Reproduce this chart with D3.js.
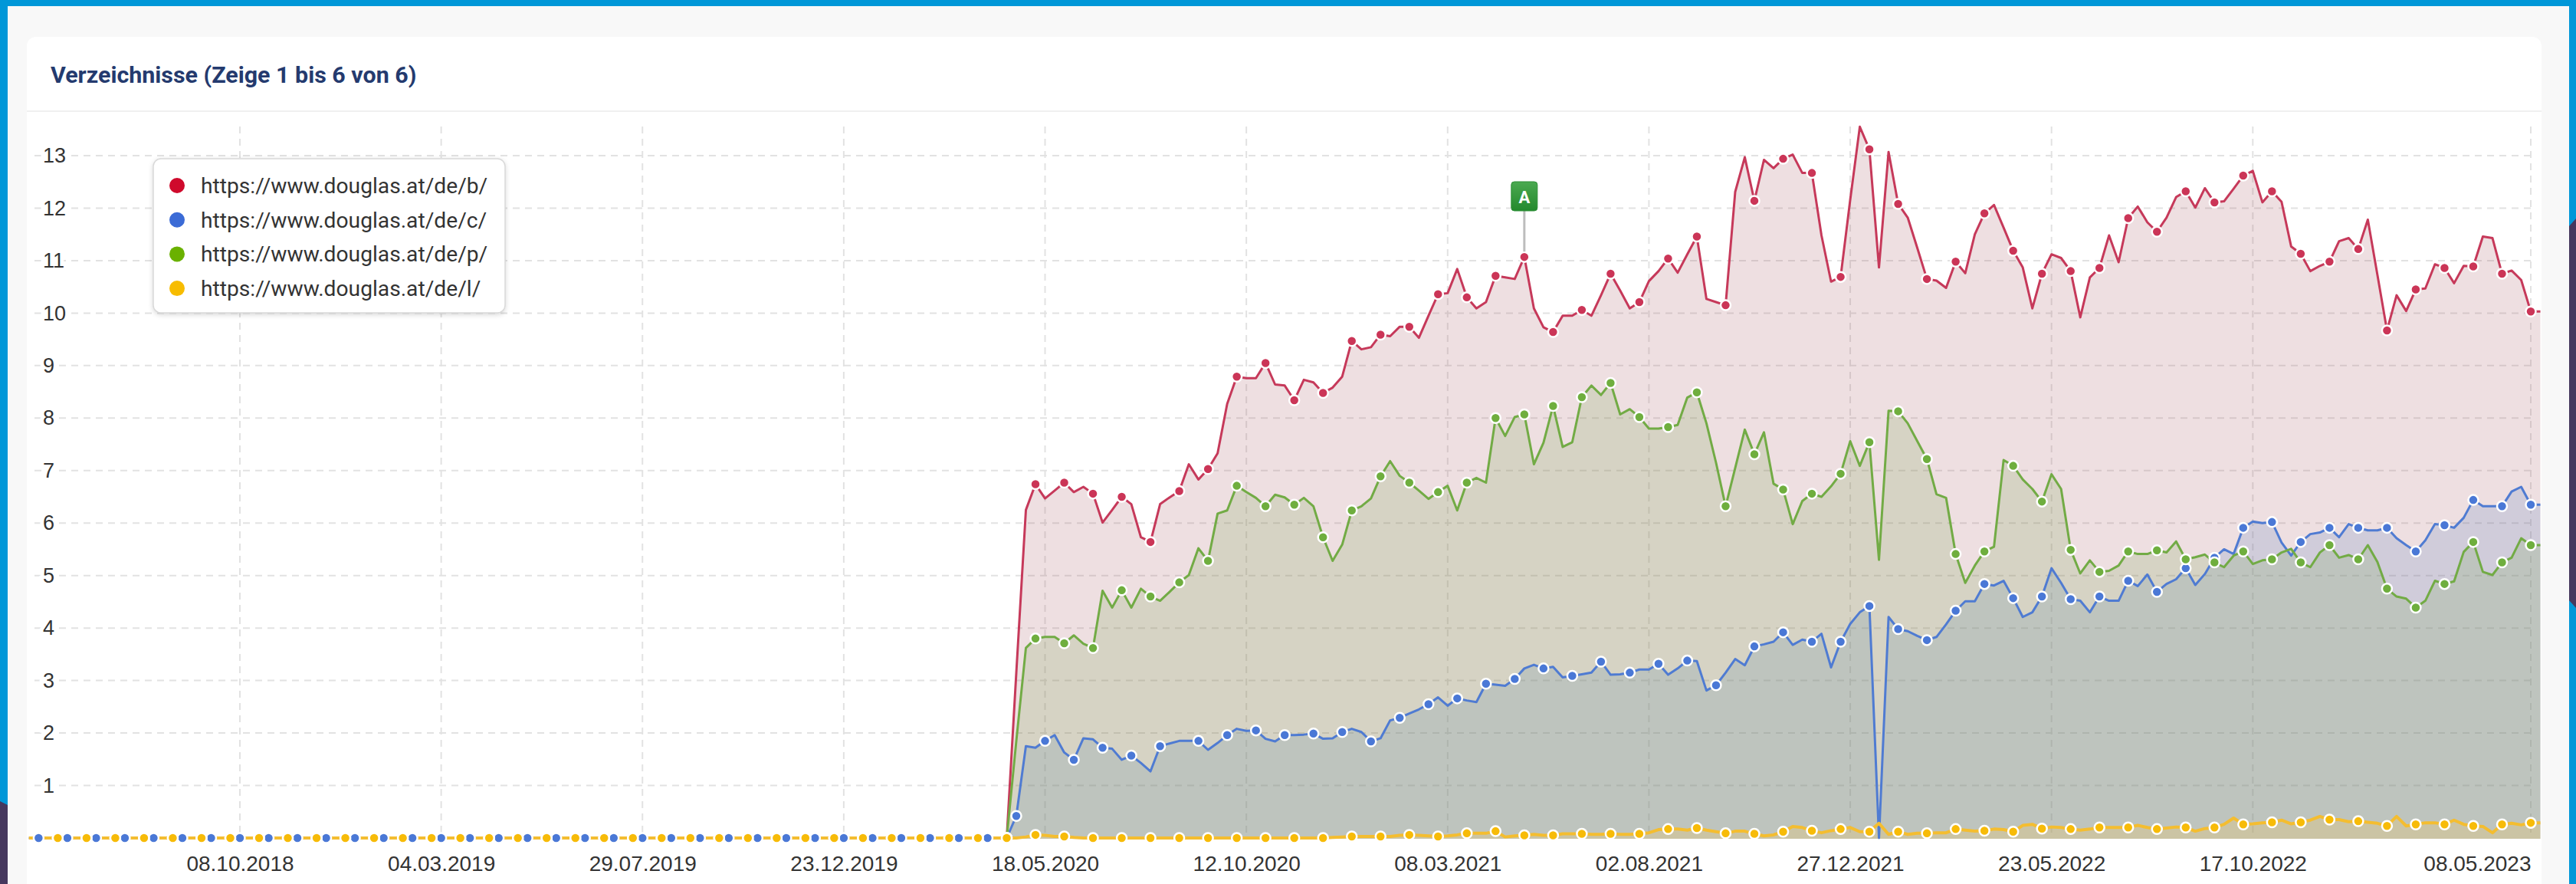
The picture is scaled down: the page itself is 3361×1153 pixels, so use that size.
<!DOCTYPE html>
<html>
<head>
    <meta charset="utf-8">
    <title>Verzeichnisse</title>
    <script src="https://d3js.org/d3.v7.min.js"></script>
    <style>
        html, body { margin: 0; padding: 0; overflow: hidden; background: #f8f8f8; }
        svg { display: block; }
    </style>
</head>
<body>
    <svg id="chart" width="3361" height="1153"></svg>

    <script>
        // weekly values. before 27.04.2020 everything sits on zero
        var flatStart = [
            0,0,0,0,0,0,0,0,0,0, 0,0,0,0,0,0,0,0,0,0, 0,0,0,0,0,0,0,0,0,0,
            0,0,0,0,0,0,0,0,0,0, 0,0,0,0,0,0,0,0,0,0, 0,0,0,0,0,0,0,0,0,0,
            0,0,0,0,0,0,0,0,0,0, 0,0,0,0,0,0,0,0,0,0, 0,0,0,0,0,0,0,0,0,0,
            0,0,0,0,0,0,0,0,0,0, 0,0,0
        ];

        var redValues = flatStart.concat([
            3.15,6.25,6.74,6.47,6.62,6.77,6.59,6.69,6.56,6.01,
            6.25,6.50,6.36,5.73,5.64,6.36,6.49,6.61,7.12,6.83,
            7.03,7.33,8.27,8.79,8.76,8.76,9.05,8.64,8.62,8.34,
            8.73,8.68,8.48,8.58,8.79,9.47,9.31,9.35,9.59,9.56,
            9.74,9.74,9.53,9.95,10.36,10.38,10.84,10.30,10.09,10.21,
            10.71,10.68,10.65,11.07,10.09,9.73,9.64,9.95,9.95,10.06,
            9.95,10.34,10.75,10.43,10.09,10.21,10.61,10.80,11.04,10.77,
            11.12,11.46,10.27,10.21,10.15,12.31,12.97,12.14,12.92,12.76,
            12.94,13.02,12.67,12.67,11.48,10.60,10.69,12.16,13.55,13.12,
            10.87,13.07,12.08,11.82,11.24,10.65,10.62,10.48,10.98,10.76,
            11.50,11.90,12.06,11.63,11.19,10.87,10.09,10.75,11.12,11.05,
            10.80,9.92,10.68,10.86,11.48,10.97,11.81,12.03,11.73,11.55,
            11.82,12.21,12.32,12.01,12.38,12.11,12.13,12.37,12.62,12.71,
            12.11,12.32,12.12,11.27,11.13,10.80,10.90,10.98,11.37,11.43,
            11.22,11.78,10.73,9.67,10.34,10.04,10.45,10.47,10.93,10.86,
            10.57,10.90,10.89,11.46,11.43,10.75,10.81,10.63,10.03,10.03
        ]);

        var blueValues = flatStart.concat([
            0.42,1.75,1.72,1.85,1.96,1.63,1.49,1.90,1.88,1.72,
            1.70,1.49,1.57,1.43,1.27,1.75,1.80,1.85,1.85,1.85,
            1.68,1.81,1.96,2.08,2.04,2.05,1.89,1.84,1.96,1.96,
            1.97,1.99,1.89,1.90,2.02,2.08,2.02,1.84,1.90,2.24,
            2.29,2.37,2.45,2.55,2.68,2.52,2.66,2.62,2.59,2.94,
            2.92,2.90,3.03,3.23,3.30,3.23,3.26,3.06,3.09,3.12,
            3.15,3.36,3.11,3.12,3.15,3.21,3.21,3.32,3.11,3.23,
            3.38,3.37,2.81,2.91,3.15,3.41,3.29,3.65,3.69,3.74,
            3.92,3.68,3.78,3.74,3.89,3.25,3.74,4.08,4.30,4.42,
            0,4.21,3.98,3.94,3.85,3.77,3.83,4.07,4.33,4.51,
            4.51,4.84,4.81,4.90,4.57,4.21,4.30,4.60,5.14,4.86,
            4.55,4.52,4.30,4.60,4.52,4.52,4.90,4.80,5.02,4.69,
            4.84,4.93,5.14,4.82,5.03,5.34,5.50,5.41,5.91,6.03,
            6.00,6.02,5.63,5.38,5.64,5.79,5.82,5.91,5.73,5.98,
            5.91,5.86,5.86,5.91,5.71,5.58,5.46,5.67,5.98,5.96,
            5.91,6.10,6.44,6.32,6.32,6.32,6.60,6.69,6.35,6.35
        ]);

        var greenValues = flatStart.concat([
            1.85,3.62,3.80,3.83,3.83,3.71,3.86,3.70,3.62,4.71,
            4.39,4.72,4.39,4.75,4.60,4.52,4.69,4.87,5.01,5.52,
            5.28,6.18,6.24,6.71,6.59,6.48,6.32,6.54,6.49,6.35,
            6.48,6.32,5.73,5.28,5.59,6.24,6.32,6.47,6.89,7.18,
            6.90,6.77,6.62,6.46,6.59,6.71,6.24,6.77,6.86,6.77,
            8.00,7.66,8.02,8.07,7.12,7.53,8.23,7.45,7.54,8.40,
            8.62,8.44,8.67,8.07,8.17,8.02,7.80,7.80,7.83,7.87,
            8.39,8.49,7.90,7.15,6.32,7.05,7.78,7.31,7.73,6.75,
            6.64,5.98,6.42,6.56,6.50,6.70,6.94,7.56,7.09,7.54,
            5.30,8.14,8.13,7.90,7.56,7.22,6.55,6.48,5.41,4.86,
            5.19,5.46,5.55,7.20,7.09,6.83,6.65,6.41,6.93,6.65,
            5.49,5.04,5.29,5.07,5.09,5.19,5.46,5.41,5.41,5.48,
            5.44,5.65,5.31,5.35,5.40,5.25,5.16,5.38,5.46,5.22,
            5.29,5.31,5.44,5.51,5.25,5.16,5.44,5.58,5.34,5.39,
            5.31,5.58,5.26,4.75,4.60,4.56,4.39,4.52,4.90,4.84,
            4.89,5.45,5.64,5.07,5.01,5.25,5.34,5.71,5.58,5.58
        ]);

        var yellowValues = flatStart.concat([
            0,0.02,0.06,0.05,0.03,0.03,0.01,0,0,0,
            0,0,0,0,0,0,0,0,0,0,
            0,0,0,0,0,0,0,0,0,0,
            0,0,0,0.01,0.02,0.03,0.03,0.03,0.03,0.03,
            0.05,0.06,0.05,0.04,0.03,0.04,0.06,0.09,0.09,0.09,
            0.13,0.02,0.04,0.05,0.07,0.05,0.05,0.08,0.08,0.08,
            0.07,0.07,0.08,0.07,0.07,0.08,0.10,0.16,0.17,0.17,
            0.15,0.19,0.15,0.12,0.09,0.13,0.13,0.08,0.04,0.06,
            0.12,0.22,0.20,0.14,0.10,0.14,0.17,0.20,0.12,0.12,
            0.28,0.07,0.12,0.07,0.09,0.09,0.10,0.10,0.17,0.15,
            0.13,0.14,0.17,0.16,0.12,0.24,0.26,0.18,0.21,0.20,
            0.17,0.15,0.17,0.20,0.20,0.20,0.20,0.24,0.20,0.17,
            0.19,0.21,0.20,0.13,0.18,0.20,0.26,0.38,0.26,0.27,
            0.29,0.30,0.34,0.27,0.30,0.34,0.41,0.35,0.35,0.31,
            0.32,0.30,0.28,0.23,0.41,0.23,0.26,0.29,0.29,0.26,
            0.34,0.26,0.23,0.22,0.10,0.26,0.28,0.25,0.29,0.29
        ]);

        var tickDates = ["08.10.2018","04.03.2019","29.07.2019","23.12.2019","18.05.2020","12.10.2020",
                         "08.03.2021","02.08.2021","27.12.2021","23.05.2022","17.10.2022","08.05.2023"];
        var tickValues = [1,2,3,4,5,6,7,8,9,10,11,12,13];

        var labelRed = "https://www.douglas.at/de/b/";
        var labelBlue = "https://www.douglas.at/de/c/";
        var labelGreen = "https://www.douglas.at/de/p/";
        var labelYellow = "https://www.douglas.at/de/l/";

        var titleText = "Verzeichnisse (Zeige 1 bis 6 von 6)";
        var flagText = "A";
        var flagWeek = 156;

        // every third week carries a marker, the blue series shifts phase twice
        var markerWeeks = d3.range(3, 262, 3);
        var blueMarkerWeeks = d3.range(1, 119, 3).concat(d3.range(122, 177, 3), d3.range(180, 262, 3));

        var parseDay = d3.timeParse("%d.%m.%Y");
        var formatDay = d3.timeFormat("%d.%m.%Y");
        var weeks = d3.timeMonday.range(new Date(2018, 4, 7), new Date(2023, 4, 16));

        var series = [
            { name: labelRed, values: redValues, line: "#c6395a", dot: "#cb3557", legend: "#cf0a2c", fill: "rgb(170,95,105)", marks: markerWeeks, width: 3 },
            { name: labelBlue, values: blueValues, line: "#4f7bd2", dot: "#4a78d6", legend: "#3b6bd6", fill: "rgb(90,130,190)", marks: blueMarkerWeeks, width: 3 },
            { name: labelGreen, values: greenValues, line: "#72ab45", dot: "#6fae3e", legend: "#6ab100", fill: "rgb(118,163,80)", marks: markerWeeks, width: 3 },
            { name: labelYellow, values: yellowValues, line: "#f4bd30", dot: "#f7bb08", legend: "#f7bc00", fill: "rgb(255,200,60)", marks: markerWeeks, width: 4 }
        ];

        var svg = d3.select("#chart");

        // page frame
        svg.append("rect").attr("width", 3361).attr("height", 1153).attr("fill", "#0097d8");
        svg.append("path").attr("fill", "#46385e").attr("d", "M3352,295L3361,285V793L3352,783Z");
        svg.append("path").attr("fill", "#46385e").attr("d", "M0,1045L10,1050V1153H0Z");
        svg.append("rect").attr("x", 10).attr("y", 8).attr("width", 3342).attr("height", 1145).attr("fill", "#f8f8f8");

        // card
        svg.append("rect").attr("x", 35).attr("y", 48).attr("width", 3281).attr("height", 1130).attr("rx", 12).attr("fill", "#fff");
        svg.append("line").attr("x1", 35).attr("x2", 3316).attr("y1", 145).attr("y2", 145).attr("stroke", "#f0f0f0").attr("stroke-width", 2);
        svg.append("text").attr("x", 66).attr("y", 108)
            .attr("font-family", "Roboto").attr("font-weight", 700).attr("font-size", 30.4)
            .attr("fill", "#243a6e").text(titleText);

        var x = d3.scaleTime().domain([parseDay("08.10.2018"), parseDay("08.05.2023")]).range([313, 3302]);
        var y = d3.scaleLinear().domain([0, 13]).range([1093, 203]);

        // grid
        var vGrid = svg.append("g").attr("stroke", "#e2e2e2").attr("stroke-width", 2).attr("stroke-dasharray", "9,7");
        vGrid.selectAll("line").data(tickDates).enter().append("line")
            .attr("x1", function(d) { return x(parseDay(d)); })
            .attr("x2", function(d) { return x(parseDay(d)); })
            .attr("y1", 165).attr("y2", 1090);
        var hGrid = svg.append("g").attr("stroke", "#e2e2e2").attr("stroke-width", 2).attr("stroke-dasharray", "9,7");
        hGrid.selectAll("line").data(tickValues).enter().append("line")
            .attr("x1", 45).attr("x2", 3303)
            .attr("y1", function(d) { return y(d); })
            .attr("y2", function(d) { return y(d); });

        // y axis labels sit left aligned on the grid with a white halo
        var yAxis = svg.append("g").attr("transform", "translate(56,0)")
            .call(d3.axisRight(y).tickValues(tickValues).tickSize(0).tickPadding(0));
        yAxis.select(".domain").remove();
        yAxis.selectAll("text")
            .attr("font-family", "Liberation Sans").attr("font-size", 27).attr("fill", "#333")
            .attr("stroke", "#fff").attr("stroke-width", 10).attr("paint-order", "stroke");

        var xAxis = svg.append("g").attr("transform", "translate(0,1094)")
            .call(d3.axisBottom(x).tickValues(tickDates.map(parseDay)).tickFormat(formatDay).tickSize(0).tickPadding(22));
        xAxis.select(".domain").remove();
        xAxis.selectAll("text")
            .attr("font-family", "Liberation Sans").attr("font-size", 28).attr("fill", "#333")
            .attr("text-anchor", function(d, i) { return i == tickDates.length - 1 ? "end" : "middle"; });

        var area = d3.area()
            .x(function(d, i) { return x(weeks[i]); })
            .y0(y(0) + 1)
            .y1(function(d) { return y(d); });
        var line = d3.line()
            .x(function(d, i) { return x(weeks[i]); })
            .y(function(d) { return y(d); });

        var plot = svg.append("g");
        series.forEach(function(s) {
            plot.append("path").attr("d", area(s.values)).attr("fill", s.fill).attr("fill-opacity", 0.2);
        });
        series.forEach(function(s) {
            plot.append("path").attr("d", line(s.values)).attr("fill", "none")
                .attr("stroke", s.line).attr("stroke-width", s.width).attr("stroke-linejoin", "round");
        });
        series.forEach(function(s) {
            plot.append("g").selectAll("circle").data(s.marks).enter().append("circle")
                .attr("cx", function(d) { return x(weeks[d]); })
                .attr("cy", function(d) { return y(s.values[d]); })
                .attr("r", 6.5)
                .attr("fill", s.dot).attr("stroke", "#fff").attr("stroke-width", 2.5);
        });

        // flag on the red series
        var flagX = x(weeks[flagWeek]);
        var flagY = y(redValues[flagWeek]);
        var grad = svg.append("defs").append("linearGradient").attr("id", "flagFill").attr("x1", 0).attr("x2", 0).attr("y1", 0).attr("y2", 1);
        grad.append("stop").attr("offset", 0).attr("stop-color", "#4aa950");
        grad.append("stop").attr("offset", 1).attr("stop-color", "#24892d");
        svg.append("line").attr("x1", flagX).attr("x2", flagX).attr("y1", 275).attr("y2", flagY - 7)
            .attr("stroke", "#bdbdbd").attr("stroke-width", 3);
        svg.append("rect").attr("x", flagX - 17).attr("y", 237).attr("width", 34).attr("height", 38).attr("rx", 4)
            .attr("fill", "url(#flagFill)").attr("stroke", "#2c8f36").attr("stroke-width", 1);
        svg.append("text").attr("x", flagX).attr("y", 265).attr("text-anchor", "middle")
            .attr("font-family", "Roboto").attr("font-weight", 700).attr("font-size", 22).attr("fill", "#fff").text(flagText);

        // legend
        var legend = svg.append("g");
        legend.append("rect").attr("x", 200).attr("y", 207).attr("width", 459).attr("height", 201).attr("rx", 10)
            .attr("fill", "#fff").attr("stroke", "#d9d9d9").attr("stroke-width", 1.5)
            .style("filter", "drop-shadow(0 2px 3px rgba(0,0,0,0.15))");
        var rows = legend.selectAll("g").data(series).enter().append("g")
            .attr("transform", function(d, i) { return "translate(0," + (242 + i * 44.7) + ")"; });
        rows.append("circle").attr("cx", 231).attr("r", 10).attr("fill", function(d) { return d.legend; });
        rows.append("text").attr("x", 262).attr("dy", "0.35em")
            .attr("font-family", "Roboto").attr("font-size", 28.2).attr("fill", "#333")
            .text(function(d) { return d.name; });
    </script>
</body>
</html>
